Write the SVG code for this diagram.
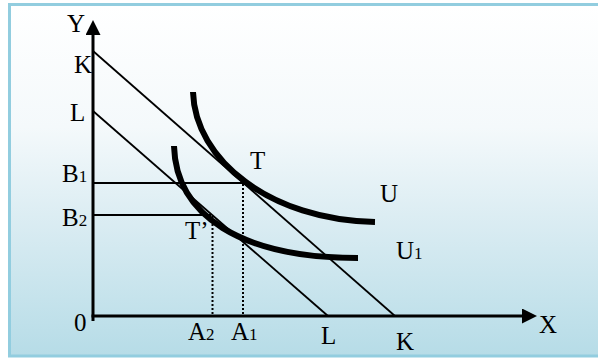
<svg xmlns="http://www.w3.org/2000/svg" width="598" height="360" viewBox="0 0 598 360">
<defs>
<linearGradient id="bg" x1="0" y1="0" x2="0" y2="1">
<stop offset="0" stop-color="#ffffff"/>
<stop offset="0.35" stop-color="#f4f9fb"/>
<stop offset="0.6" stop-color="#dcedf3"/>
<stop offset="1" stop-color="#b6dce7"/>
</linearGradient>
<marker id="arr" viewBox="0 0 10 10" refX="0" refY="5" markerWidth="5" markerHeight="5" orient="auto" markerUnits="strokeWidth">
<path d="M0,0 L10,5 L0,10 z" fill="#000"/>
</marker>
<style>
.t{font-family:"Liberation Serif","Times New Roman",serif;font-size:25px;fill:#000}
.s{font-size:17px}
.axis{stroke:#000;stroke-width:3;fill:none}
.thin{stroke:#000;stroke-width:1.8;fill:none}
.dot{stroke:#000;stroke-width:2;stroke-dasharray:2 2;fill:none}
.curve{stroke:#000;stroke-width:6;fill:none}
</style>
</defs>
<rect x="0" y="0" width="598" height="360" fill="#fff"/>
<rect x="9.5" y="4.5" width="600" height="351.5" fill="url(#bg)" stroke="#92cddf" stroke-width="3"/>
<g id="connectors">
<line class="axis" x1="93" y1="321" x2="93" y2="35" marker-end="url(#arr)"/>
<line class="axis" x1="91.5" y1="316" x2="522" y2="316" marker-end="url(#arr)"/>
<line class="thin" x1="93" y1="51" x2="395" y2="316"/>
<line class="thin" x1="93" y1="111" x2="328" y2="316"/>
<line class="thin" x1="93" y1="183" x2="243" y2="183"/>
<line class="thin" x1="93" y1="215" x2="211" y2="215"/>
<line class="dot" x1="243" y1="184" x2="243" y2="315"/>
<line class="dot" x1="212.5" y1="216" x2="212.5" y2="315"/>
</g>
<g id="U">
<path class="curve" d="M193,92 C195,160 270,220 375,222"/>
<text class="t" x="380" y="202">U</text>
</g>
<g id="U1">
<path class="curve" d="M174,146 C176,215 240,258 358,258"/>
<text class="t" x="396" y="259">U<tspan class="s">1</tspan></text>
</g>
<g id="labels">
<text class="t" x="67" y="32">Y</text>
<text class="t" x="74" y="73">K</text>
<text class="t" x="70" y="121">L</text>
<text class="t" x="62" y="182">B<tspan class="s">1</tspan></text>
<text class="t" x="62" y="226">B<tspan class="s">2</tspan></text>
<text class="t" x="74" y="331">0</text>
<text class="t" x="188" y="340">A<tspan class="s">2</tspan></text>
<text class="t" x="231" y="340">A<tspan class="s">1</tspan></text>
<text class="t" x="321" y="344">L</text>
<text class="t" x="396" y="350">K</text>
<text class="t" x="539" y="333">X</text>
<text class="t" x="250" y="169">T</text>
<text class="t" x="185" y="239">T’</text>
</g>
</svg>
